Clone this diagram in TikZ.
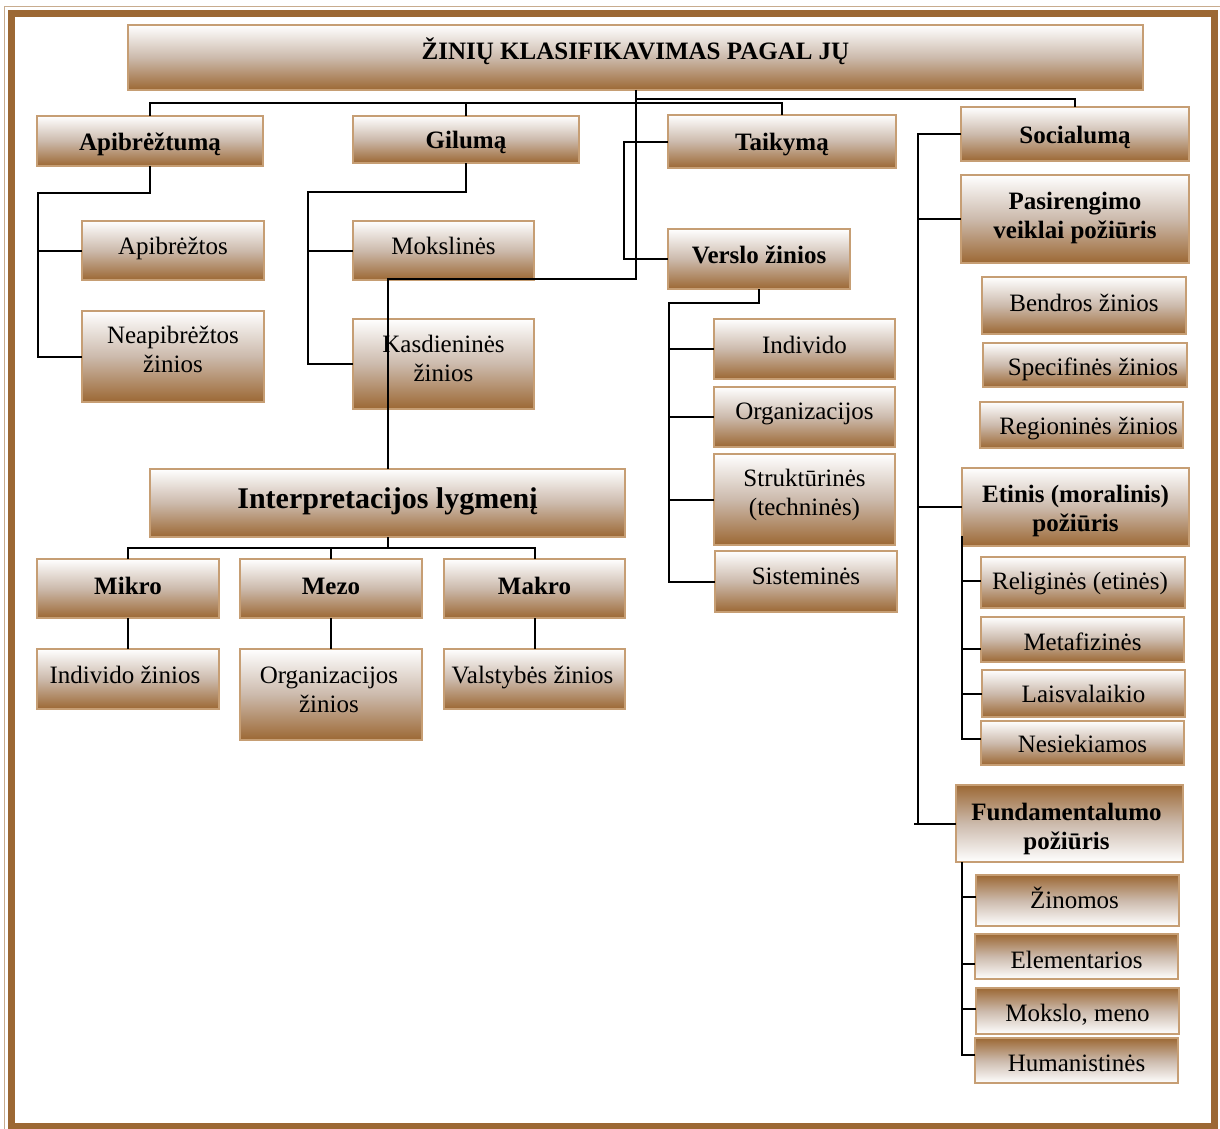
\documentclass[tikz,border=0pt]{standalone}
\usepackage{fontspec}
\setmainfont{Liberation Serif}
\definecolor{brn}{RGB}{156,104,52}
\definecolor{edge}{RGB}{198,158,116}
\definecolor{mid}{RGB}{204,186,172}
\tikzset{
  tdx/.store in=\bxdx,
  box/.style={draw=edge, line width=0.8pt, inner sep=0pt, outer sep=0pt,
    font=\fontsize{12.5}{14.5}\selectfont, tdx=0,
    top color=white, bottom color=brn, middle color=mid},
  inv/.style={top color=brn, bottom color=white, middle color=mid},
  hd/.style={font=\fontsize{12.5}{14.5}\selectfont\bfseries},
  conn/.style={draw=black, line width=1pt},
}
% \bx[style]{name}{x1}{y1}{x2}{y2}{baseline of last line}{text}, all in pixel units
\newcommand\bx[8][]{%
  \node[box,#1,minimum width={(#5-#3)*0.5pt},minimum height={(#6-#4)*0.5pt}]
    (#2) at ({(#3+#5)/2},{(#4+#6)/2})
    {\pgfmathsetlengthmacro\bxb{((#4+#6)/2-#7)*0.5}%
     \pgfmathsetlengthmacro\bxh{\bxdx}%
     \makebox[0pt]{\hspace*{\bxh}\raisebox{\bxb}[0pt][0pt]{%
       \begin{tabular}[b]{@{}c@{}}#8\end{tabular}}}};}
\begin{document}
\begin{tikzpicture}[x=0.5pt,y=-0.5pt]
\useasboundingbox (0,0) rectangle (1220,1129);
% page frame
\draw[brn!55!white, line width=0.8pt] (4.5,1129) -- (4.5,6.5) -- (1220,6.5);
\draw[brn, line width=3.5pt] (11.5,14) rectangle (1214.5,1126);

% title and first level
\bx[hd]{title}{128}{25}{1143}{90}{60}{ŽINIŲ KLASIFIKAVIMAS PAGAL JŲ}
\bx[hd]{ap}{37}{116}{263}{166}{150}{Apibrėžtumą}
\bx[hd]{gl}{353}{116}{579}{163}{149}{Gilumą}
\bx[hd]{tk}{668}{115}{896}{168}{150}{Taikymą}
\bx[hd]{soc}{961}{107}{1189}{161}{143}{Socialumą}

% definiteness
\bx{apz}{82}{221}{264}{280}{254}{Apibrėžtos}
\bx{neap}{82}{311}{264}{402}{372}{Neapibrėžtos\\žinios}
% depth
\bx{mk}{353}{221}{534}{280}{254}{Mokslinės}
\bx{kd}{353}{319}{534}{409}{381}{Kasdieninės\\žinios}
% application
\bx[hd]{vz}{668}{229}{850}{289}{263}{Verslo žinios}
\bx{vi}{714}{319}{895}{379}{353}{Individo}
\bx{vo}{714}{387}{895}{447}{419}{Organizacijos}
\bx{vs}{714}{454}{895}{545}{515}{Struktūrinės\\(techninės)}
\bx{vsi}{715}{551}{897}{612}{584}{Sisteminės}

% interpretation levels
\bx[font=\fontsize{15}{18}\selectfont\bfseries]{interp}{150}{469}{625}{537}{508}{Interpretacijos lygmenį}
\bx[hd]{mikro}{37}{559}{219}{618}{594}{Mikro}
\bx[hd]{mezo}{240}{559}{422}{618}{594}{Mezo}
\bx[hd]{makro}{444}{559}{625}{618}{594}{Makro}
\bx[tdx=-3]{ind}{37}{649}{219}{709}{683}{Individo žinios}
\bx[tdx=-2]{org}{240}{649}{422}{740}{712}{Organizacijos\\žinios}
\bx[tdx=-2]{val}{444}{649}{625}{709}{683}{Valstybės žinios}

% social aspect
\bx[hd]{pas}{961}{175}{1189}{263}{238}{Pasirengimo\\veiklai požiūris}
\bx{bz}{982}{277}{1186}{334}{311}{Bendros žinios}
\bx[tdx=8]{sz}{983}{343}{1187}{387}{375}{Specifinės žinios}
\bx[tdx=7]{rz}{980}{402}{1183}{448}{434}{Regioninės žinios}
\bx[hd]{et}{962}{468}{1189}{546}{531}{Etinis (moralinis)\\požiūris}
\bx[tdx=-3]{rel}{981}{557}{1185}{608}{589}{Religinės (etinės)}
\bx{met}{981}{617}{1184}{662}{650}{Metafizinės}
\bx{lai}{982}{670}{1185}{717}{702}{Laisvalaikio}
\bx{nes}{981}{721}{1184}{765}{752}{Nesiekiamos}
\bx[hd,inv,tdx=-3]{fund}{956}{785}{1183}{862}{849}{Fundamentalumo\\požiūris}
\bx[inv,tdx=-3]{zin}{976}{875}{1179}{926}{908}{Žinomos}
\bx[inv]{el}{975}{934}{1178}{979}{968}{Elementarios}
\bx[inv]{mm}{976}{988}{1179}{1034}{1021}{Mokslo, meno}
\bx[inv]{hum}{975}{1038}{1178}{1083}{1071}{Humanistinės}

% junction points
\coordinate (busA) at (635,103);
\coordinate (busB) at (635,99);
\coordinate (jI) at (635,279);
\coordinate (lA) at (38,193);
\coordinate (lG) at (308,192);
\coordinate (bI) at (388,548);
\coordinate (lV) at (669,303);
\coordinate (lS) at (918,134);
\coordinate (lE) at (962,536);
\coordinate (lF) at (962,862);

% connectors from the title
\draw[conn] (title.south) -- (title.south |- jI) -| (interp.north);
\draw[conn] (ap.north) |- (busA -| tk.north) -- (tk.north);
\draw[conn] (gl.north) -- (gl.north |- busA);
\draw[conn] (title.south |- busB) -| (soc.north);
\draw[conn] (tk.west) -- ++(-44,0) |- (vz.west);

% definiteness branch
\draw[conn] (ap.south) |- (lA) |- (apz.west);
\draw[conn] (lA) |- (neap.west);
% depth branch
\draw[conn] (gl.south) |- (lG) |- (mk.west);
\draw[conn] (lG) |- (kd.west);
% business knowledge branch
\draw[conn] (vz.south) |- (lV) |- (vi.west);
\draw[conn] (lV) |- (vo.west);
\draw[conn] (lV) |- (vs.west);
\draw[conn] (lV) |- (vsi.west);

% interpretation levels
\draw[conn] (interp.south) -- (interp.south |- bI);
\draw[conn] (mikro.north) |- (bI -| makro.north) -- (makro.north);
\draw[conn] (mezo.north) -- (mezo.north |- bI);
\draw[conn] (mikro.south) -- (ind.north);
\draw[conn] (mezo.south) -- (org.north);
\draw[conn] (makro.south) -- (val.north);

% social aspect
\draw[conn] (soc.west) -- (lS) -- (lS |- fund.west) -- ([xshift=-2pt]lS |- fund.west) -- (fund.west);
\draw[conn] (lS |- pas.west) -- (pas.west);
\draw[conn] (lS |- et.west) -- (et.west);
\draw[conn] (lE) |- ([yshift=0.75pt]rel.west);
\draw[conn] (lE) |- ([yshift=-4.75pt]met.west);
\draw[conn] (lE) |- (lai.west);
\draw[conn] (lE) |- ([yshift=2pt]nes.west);
\draw[conn] (lF) |- ([yshift=1.75pt]zin.west);
\draw[conn] (lF) |- ([yshift=-3.75pt]el.west);
\draw[conn] (lF) |- ([yshift=1pt]mm.west);
\draw[conn] (lF) |- ([yshift=2.75pt]hum.west);
\end{tikzpicture}
\end{document}
